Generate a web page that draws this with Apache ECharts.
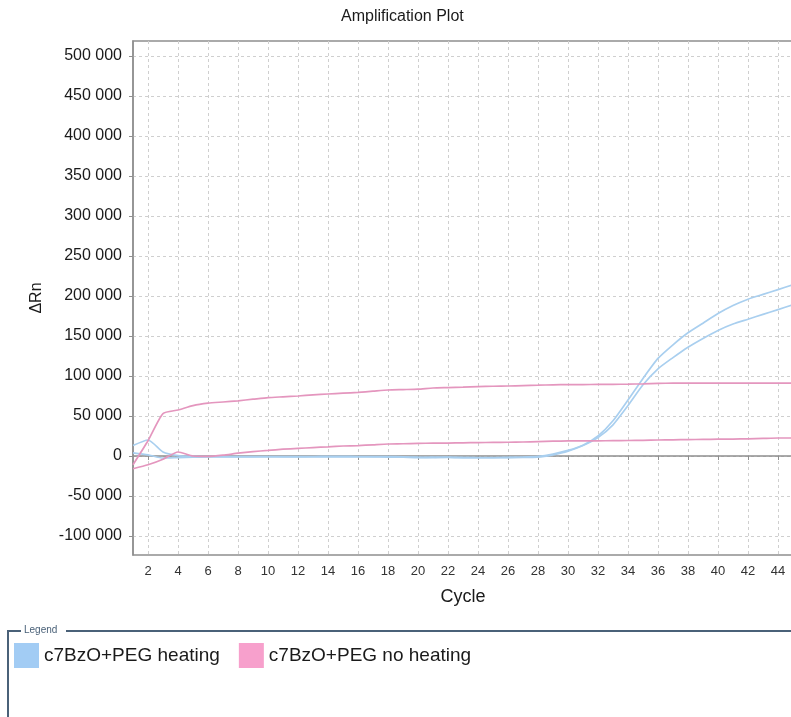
<!DOCTYPE html>
<html>
<head>
<meta charset="utf-8">
<script src="https://cdn.jsdelivr.net/npm/echarts@6/dist/echarts.min.js"></script>
<style>
  html, body { margin: 0; padding: 0; background: #ffffff; }
  #chart { width: 791px; height: 717px; }
</style>
</head>
<body>
<div id="chart"></div>
<script>
// PCR cycle numbers
const cycles = [1, 2, 3, 4, 5, 6, 7, 8, 9, 10, 11, 12, 13, 14, 15, 16, 17, 18, 19, 20, 21, 22, 23,
  24, 25, 26, 27, 28, 29, 30, 31, 32, 33, 34, 35, 36, 37, 38, 39, 40, 41, 42, 43, 44, 45];

// ΔRn, heated wells
const heatingA = [13000, 20000, 5000, 500, -500, -800, -800, -700, -700, -600, -700, -800, -600, -500,
  -500, -600, -700, -800, -1000, -1500, -2000, -1500, -2000, -2200, -2200, -2000, -1500, -500,
  2500, 7000, 13500, 25000, 44000, 70000, 97000, 122000, 139000, 154000, 166000, 178000, 188000,
  196000, 202000, 208000, 214000];
const heatingB = [4000, 1500, -2500, -2000, -1500, -1200, -1200, -1100, -1000, -1000, -1000, -1100,
  -1000, -1000, -1000, -1100, -1200, -1300, -1500, -2000, -1500, -1800, -2000, -2000, -2000, -1800,
  -1800, -1500, 1500, 6000, 13000, 23000, 39000, 63000, 89000, 109000, 123000, 136000, 147000,
  157000, 165000, 171000, 177000, 183000, 189000];

// ΔRn, unheated wells
const noHeatingA = [-11000, 19000, 53000, 57500, 63000, 66000, 67500, 69000, 71000, 73000, 74000,
  75000, 76500, 77500, 78500, 79500, 81000, 82500, 83000, 83500, 85000, 85500, 86000, 86800, 87200,
  87500, 88000, 88500, 89000, 89200, 89300, 89500, 89600, 89800, 90200, 90800, 91000, 91000, 91000,
  91000, 91000, 91000, 91000, 91000, 91000];
const noHeatingB = [-16000, -11000, -4000, 5000, 0, -500, 1000, 3500, 5500, 7000, 8500, 9500, 10500,
  11500, 12500, 13000, 14000, 15000, 15300, 15800, 16000, 16200, 16500, 16800, 17000, 17200, 17500,
  18000, 18500, 18800, 19000, 19000, 19200, 19400, 19600, 20000, 20200, 20500, 20800, 21000, 21200,
  21500, 22000, 22500, 22500];

// Axis tick values
const xTicks = [2, 4, 6, 8, 10, 12, 14, 16, 18, 20, 22, 24, 26, 28, 30, 32, 34, 36, 38, 40, 42, 44];
const yTicks = [-100000, -50000, 0, 50000, 100000, 150000, 200000, 250000, 300000, 350000, 400000,
  450000, 500000];

const seriesNames = ['c7BzO+PEG heating', 'c7BzO+PEG no heating'];
const lineColors = ['#a9cfef', '#e496be'];
const swatchColors = ['#a2ccf4', '#f7a0cc'];

const pairs = (vals) => cycles.map((c, i) => [c, vals[i]]);
const fmtThousands = (v) => {
  const s = String(Math.abs(v)).replace(/\B(?=(\d{3})+(?!\d))/g, ' ');
  return (v < 0 ? '-' : '') + s;
};

const mkLine = (name, color, vals) => ({
  name: name,
  type: 'line',
  data: pairs(vals),
  showSymbol: false,
  smooth: 0.2,
  itemStyle: { color: color },
  lineStyle: { color: color, width: 1.7 },
  emphasis: { disabled: true }
});

const frameColor = '#4a6178';
const axisColor = '#8f8f8f';
const font = '"Liberation Sans", Arial, sans-serif';

const chart = echarts.init(document.getElementById('chart'), null, { renderer: 'canvas' });
chart.setOption({
  animation: false,
  backgroundColor: '#ffffff',
  title: {
    text: 'Amplification Plot',
    left: 341,
    top: 9,
    padding: 0,
    textStyle: { fontFamily: font, fontSize: 16, fontWeight: 'normal', color: '#1a1a1a' }
  },
  grid: {
    left: 133,
    top: 41,
    width: 660,
    height: 514,
    outerBoundsMode: 'none',
    show: true,
    borderColor: axisColor,
    borderWidth: 1.5,
    backgroundColor: 'transparent'
  },
  xAxis: {
    type: 'value',
    min: 1,
    max: 45,
    name: 'Cycle',
    nameLocation: 'middle',
    nameGap: 33,
    nameTextStyle: { fontFamily: font, fontSize: 18, color: '#1a1a1a' },
    axisLine: { show: true, lineStyle: { color: axisColor, width: 1.5 } },
    axisTick: { show: true, length: 4, customValues: xTicks, lineStyle: { color: axisColor } },
    axisLabel: {
      customValues: xTicks,
      margin: 10,
      fontFamily: font,
      fontSize: 13,
      color: '#333333'
    },
    splitLine: { show: true, lineStyle: { color: '#cfcfcf', type: [3, 3], width: 1 } }
  },
  yAxis: {
    type: 'value',
    min: -123750,
    max: 518750,
    name: 'ΔRn',
    nameLocation: 'middle',
    nameRotate: 90,
    nameGap: 88,
    nameTextStyle: { fontFamily: font, fontSize: 16, color: '#1a1a1a' },
    axisLine: { show: true, lineStyle: { color: axisColor, width: 1.5 } },
    axisTick: { show: true, length: 4, customValues: yTicks, lineStyle: { color: axisColor } },
    axisLabel: {
      customValues: yTicks,
      margin: 11,
      formatter: fmtThousands,
      fontFamily: font,
      fontSize: 16,
      color: '#1a1a1a'
    },
    splitLine: { show: true, lineStyle: { color: '#cfcfcf', type: [3, 3], width: 1 } }
  },
  legend: {
    left: 14,
    top: 643,
    padding: 0,
    icon: 'rect',
    itemWidth: 25,
    itemHeight: 25,
    itemGap: 19,
    selectedMode: false,
    textStyle: { fontFamily: font, fontSize: 19, color: '#1a1a1a' },
    data: [
      { name: seriesNames[0], itemStyle: { color: swatchColors[0] } },
      { name: seriesNames[1], itemStyle: { color: swatchColors[1] } }
    ]
  },
  graphic: [
    {
      type: 'polyline',
      shape: { points: [[21, 631], [8, 631], [8, 717]] },
      style: { stroke: frameColor, lineWidth: 2, fill: null }
    },
    {
      type: 'line',
      shape: { x1: 66, y1: 631, x2: 791, y2: 631 },
      style: { stroke: frameColor, lineWidth: 2 }
    },
    {
      type: 'text',
      left: 24,
      top: 625,
      style: { text: 'Legend', fontFamily: font, fontSize: 10, fill: frameColor }
    }
  ],
  series: [
    mkLine(seriesNames[0], lineColors[0], heatingA),
    mkLine(seriesNames[0], lineColors[0], heatingB),
    mkLine(seriesNames[1], lineColors[1], noHeatingA),
    mkLine(seriesNames[1], lineColors[1], noHeatingB)
  ]
});
</script>
</body>
</html>
